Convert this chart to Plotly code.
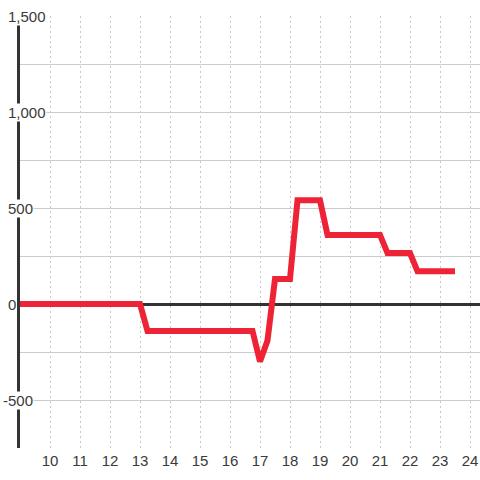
import plotly.graph_objects as go

hours = [9, 13, 13.25, 16.75, 17, 17.25, 17.5, 18, 18.25, 19, 19.25, 21, 21.25, 22, 22.25, 23.5]
values = [0, 0, -140, -140, -300, -190, 130, 130, 540, 540, 360, 360, 265, 265, 170, 170]

x_ticks = list(range(10, 25))
y_label_vals = [1500, 1000, 500, 0, -500]
y_grid_vals = [-750, -500, -250, 0, 250, 500, 750, 1000, 1250, 1500]

FONT = "Liberation Sans, Arial, sans-serif"
TXT = "#3a3a3a"
FS = 15

fig = go.Figure()
fig.add_trace(go.Scatter(
    x=hours, y=values, mode="lines",
    line=dict(color="#ee2436", width=6),
    cliponaxis=False, hoverinfo="skip",
))

L, R, T, B = 20, 0, 16, 32
plot_w = 480 - L - R

annotations = []
for v in y_label_vals:
    txt = f"{v:,}"
    left_px = 7 if v >= 0 else 2
    annotations.append(dict(
        xref="paper", yref="y", x=(left_px - L) / plot_w, y=v,
        xanchor="left", yanchor="middle", text=txt, showarrow=False,
        font=dict(family=FONT, size=FS, color=TXT),
        bgcolor="white", borderpad=0,
    ))

fig.update_layout(
    width=480, height=480,
    margin=dict(l=L, r=R, t=T, b=B),
    paper_bgcolor="white", plot_bgcolor="white",
    showlegend=False,
    annotations=annotations,
    xaxis=dict(
        range=[9, 9 + plot_w / 30], tickmode="array", tickvals=x_ticks,
        ticktext=[str(t) for t in x_ticks],
        showgrid=True, gridcolor="#c8c8c8", gridwidth=1, griddash="2px,3px",
        zeroline=False, showline=False, ticks="", ticklen=0,
        ticklabelstandoff=2,
        tickfont=dict(family=FONT, size=FS, color=TXT),
        fixedrange=True,
    ),
    yaxis=dict(
        range=[-750, 1500], tickmode="array", tickvals=y_grid_vals,
        showticklabels=False,
        showgrid=True, gridcolor="#cccccc", gridwidth=1,
        zeroline=True, zerolinecolor="#333333", zerolinewidth=3,
        showline=True, linecolor="#333333", linewidth=3,
        layer="below traces", ticks="",
        fixedrange=True,
    ),
)

fig.write_html(
    "out.html",
    config={"displayModeBar": False},
    post_script="document.body.style.margin='0';document.body.style.overflow='hidden';",
)
